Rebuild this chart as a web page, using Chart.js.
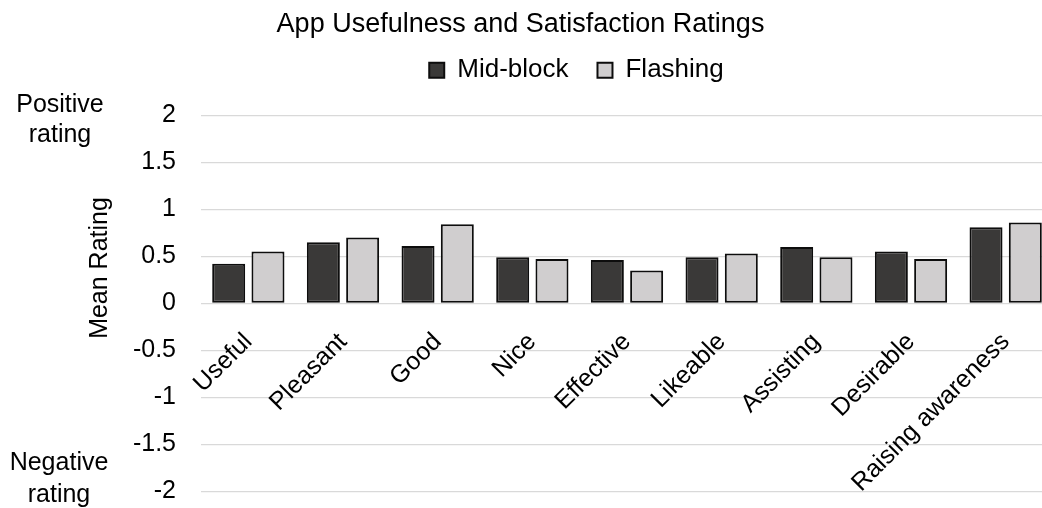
<!DOCTYPE html>
<html><head><meta charset="utf-8">
<script src="https://cdn.jsdelivr.net/npm/chart.js@4.4.1/dist/chart.umd.min.js"></script>
<style>
html,body{margin:0;padding:0;overflow:hidden;background:#fff;width:1042px;height:508px}
#wrap{position:absolute;left:0;top:0;width:1053px;height:508px}
</style>
</head><body><div id="wrap"><canvas id="c" width="1053" height="508"></canvas></div>
<script>
// ---- data ----
const categories = ['Useful','Pleasant','Good','Nice','Effective','Likeable','Assisting','Desirable','Raising awareness'];
const seriesNames = ['Mid-block','Flashing'];
const midBlock = [0.42,0.65,0.61,0.49,0.46,0.49,0.60,0.55,0.81];
const flashing = [0.55,0.70,0.84,0.47,0.35,0.53,0.49,0.47,0.86];
const yTickValues = [-2,-1.5,-1,-0.5,0,0.5,1,1.5,2];
const yTickLabels = ['-2','-1.5','-1','-0.5','0','0.5','1','1.5','2'];
const titleText = 'App Usefulness and Satisfaction Ratings';
const yAxisTitle = 'Mean Rating';
const positiveNote = ['Positive','rating'];
const negativeNote = ['Negative','rating'];

// ---- styling / layout ----
const FONT = "'Liberation Sans', Arial, Helvetica, sans-serif";
Chart.defaults.font.family = FONT;
Chart.defaults.color = '#000';

const shiftPlugin = {
  id: 'shiftBoxes',
  afterLayout(chart) {
    const t = chart.titleBlock;
    if (t) { t.left -= 6; t.right -= 6; }
    const l = chart.legend;
    if (l) { l.left += 50; l.right += 50; l.top -= 22; l.bottom -= 22; }
  }
};

const sideText = {
  id: 'sideText',
  afterDraw(chart) {
    const ctx = chart.ctx;
    ctx.save();
    ctx.fillStyle = '#000';
    ctx.font = '25px ' + FONT;
    ctx.textAlign = 'center';
    ctx.textBaseline = 'alphabetic';
    ctx.fillText(positiveNote[0], 60, 112);
    ctx.fillText(positiveNote[1], 60, 142);
    ctx.fillText(negativeNote[0], 59, 470);
    ctx.fillText(negativeNote[1], 59, 502);
    ctx.translate(100, 268);
    ctx.rotate(-Math.PI / 2);
    ctx.textBaseline = 'middle';
    ctx.fillText(yAxisTitle, 0, 0);
    ctx.restore();
  }
};

new Chart(document.getElementById('c'), {
  type: 'bar',
  data: {
    labels: categories,
    datasets: [
      { label: seriesNames[0], data: midBlock, backgroundColor: '#3a3938', borderColor: '#0d0d0d', borderWidth: 2, borderSkipped: false,
        categoryPercentage: 0.83, barPercentage: 0.84 },
      { label: seriesNames[1], data: flashing, backgroundColor: '#d0cecf', borderColor: '#0d0d0d', borderWidth: 2, borderSkipped: false,
        categoryPercentage: 0.83, barPercentage: 0.84 }
    ]
  },
  options: {
    responsive: false,
    animation: false,
    devicePixelRatio: 1,
    layout: { padding: { left: 0, right: 0, top: 0, bottom: 16.7 } },
    plugins: {
      title: { display: true, text: titleText, color: '#000',
        font: { size: 27, weight: 'normal', lineHeight: 1.2 },
        padding: { top: 8, bottom: 9.9 } },
      legend: { display: true, position: 'top',
        labels: { boxWidth: 15, boxHeight: 15, padding: 29, color: '#000', font: { size: 26 } } },
      tooltip: { enabled: false }
    },
    scales: {
      x: {
        type: 'category',
        position: { y: 0 },
        offset: true,
        grid: { display: false, drawTicks: false },
        border: { display: false },
        ticks: { minRotation: 45, maxRotation: 45, autoSkip: false, padding: 24, color: '#000', font: { size: 25 } }
      },
      y: {
        min: -2, max: 2,
        grid: { color: '#d9d9d9', lineWidth: 1.3, drawTicks: true, tickLength: 25, tickColor: 'rgba(0,0,0,0)' },
        border: { display: false },
        afterBuildTicks(scale) { scale.ticks = yTickValues.map(v => ({ value: v })); },
        afterFit(scale) { scale.width = 201; },
        ticks: { padding: 0, color: '#000', font: { size: 25 },
          callback(v) { const i = yTickValues.indexOf(v); return i >= 0 ? yTickLabels[i] : ''; } }
      }
    }
  },
  plugins: [shiftPlugin, sideText]
});
</script>
</body></html>
